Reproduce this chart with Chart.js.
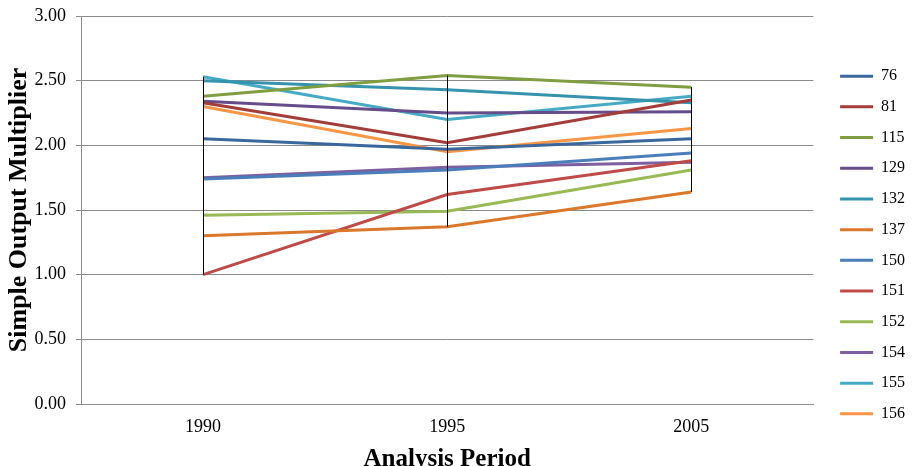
<!DOCTYPE html>
<html>
<head>
<meta charset="utf-8">
<script src="https://cdn.jsdelivr.net/npm/chart.js@4/dist/chart.umd.min.js"></script>
<style>
  html, body { margin: 0; padding: 0; background: #ffffff; }
  #wrap { width: 913px; height: 466px; position: relative; }
</style>
</head>
<body>
<div id="wrap"><canvas id="chart" width="913" height="466"></canvas></div>
<script>
// Analysis periods on the category axis
const periods = ['1990', '1995', '2005'];

// Simple output multiplier per sector code
const sectorCodes = ['76', '81', '115', '129', '132', '137', '150', '151', '152', '154', '155', '156'];
const s76  = [2.05, 1.97, 2.05];
const s81  = [2.33, 2.02, 2.35];
const s115 = [2.38, 2.54, 2.45];
const s129 = [2.34, 2.25, 2.26];
const s132 = [2.50, 2.43, 2.33];
const s137 = [1.30, 1.37, 1.64];
const s150 = [1.74, 1.81, 1.94];
const s151 = [1.00, 1.62, 1.88];
const s152 = [1.46, 1.49, 1.81];
const s154 = [1.75, 1.83, 1.87];
const s155 = [2.53, 2.20, 2.38];
const s156 = [2.30, 1.95, 2.13];
const seriesValues = [s76, s81, s115, s129, s132, s137, s150, s151, s152, s154, s155, s156];

// Y axis tick range
const yMin = 0, yMax = 3, yStep = 0.5;

const seriesColors = ['#3A679C', '#A33D3A', '#7F9E3F', '#664C8B', '#3593AD', '#D9772B',
                      '#4A7EBB', '#BE4B48', '#98B954', '#7D5FA0', '#46AAC5', '#F79646'];

const serif = "'Liberation Serif', 'Times New Roman', serif";

// Vertical high-low line at each category, spanning the lowest to highest series value
const highLowLines = {
  id: 'highLowLines',
  afterDatasetsDraw(chart) {
    const xs = chart.scales.x, ys = chart.scales.y, ctx = chart.ctx;
    ctx.save();
    ctx.strokeStyle = '#000000';
    ctx.lineWidth = 1;
    periods.forEach((p, i) => {
      const vals = seriesValues.map(s => s[i]);
      const x = Math.round(xs.getPixelForValue(i)) + 0.5;
      ctx.beginPath();
      ctx.moveTo(x, ys.getPixelForValue(Math.max(...vals)));
      ctx.lineTo(x, ys.getPixelForValue(Math.min(...vals)));
      ctx.stroke();
    });
    ctx.restore();
  }
};

const datasets = sectorCodes.map((code, i) => ({
  label: code,
  data: seriesValues[i],
  borderColor: seriesColors[i],
  backgroundColor: seriesColors[i],
  borderWidth: 3,
  pointRadius: 0,
  tension: 0,
  fill: false,
  yAxisID: 'y'
}));

new Chart(document.getElementById('chart'), {
  type: 'line',
  data: { labels: periods, datasets },
  plugins: [highLowLines],
  options: {
    responsive: false,
    animation: false,
    layout: { padding: { left: 2, top: 16, right: 0, bottom: -6 } },
    plugins: {
      tooltip: { enabled: false },
      legend: {
        position: 'right',
        align: 'center',
        maxWidth: 87.6,
        title: { display: true, text: '', font: { size: 2, lineHeight: 1 }, padding: 0 },
        labels: {
          font: { family: serif, size: 16 },
          color: '#000000',
          padding: 14.7,
          boxWidth: 33,
          boxHeight: 3,
          generateLabels(chart) {
            return chart.data.datasets.map((ds, i) => ({
              text: ds.label,
              fillStyle: ds.borderColor,
              strokeStyle: ds.borderColor,
              lineWidth: 0,
              fontColor: '#000000',
              hidden: false,
              datasetIndex: i
            }));
          }
        }
      }
    },
    scales: {
      x: {
        type: 'category',
        offset: true,
        grid: { display: false, drawTicks: false },
        border: { display: true, color: '#8c8c8c' },
        ticks: { font: { family: serif, size: 18 }, color: '#000000', padding: 12 },
        title: {
          display: true,
          text: 'Analysis Period',
          font: { family: serif, size: 25, weight: 'bold', lineHeight: 1 },
          color: '#000000',
          padding: { top: 0, bottom: 0 }
        },
        afterFit(scale) { scale.height = 68; }
      },
      y: {
        min: yMin,
        max: yMax,
        ticks: {
          stepSize: yStep,
          callback: v => Number(v).toFixed(2),
          font: { family: serif, size: 18 },
          color: '#000000',
          padding: 10
        },
        grid: { color: '#8c8c8c', lineWidth: 1, tickLength: 5 },
        border: { color: '#8c8c8c' },
        title: {
          display: true,
          text: 'Simple Output Multiplier',
          font: { family: serif, size: 26, weight: 'bold', lineHeight: 1.2 },
          color: '#000000',
          padding: { top: 2, bottom: 2 }
        },
        afterFit(scale) {
          scale.width = 79;
          scale.paddingTop = 0;
          scale.paddingBottom = 0;
        }
      },
      gap: {
        position: 'right',
        display: true,
        grid: { display: false, drawTicks: false },
        border: { display: false },
        ticks: { display: false },
        afterFit(scale) { scale.width = 12; }
      }
    }
  }
});
</script>
</body>
</html>
